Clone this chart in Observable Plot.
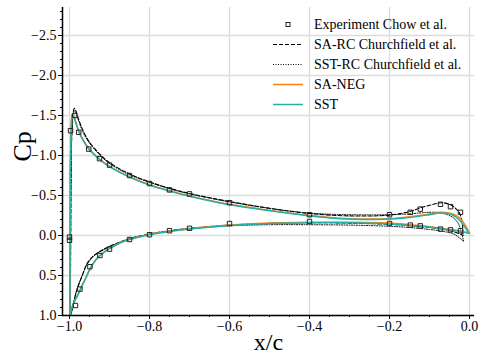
<!DOCTYPE html>
<html>
<head>
<meta charset="utf-8">
<script src="https://cdn.jsdelivr.net/npm/d3@7"></script>
<script src="https://cdn.jsdelivr.net/npm/@observablehq/plot@0.6"></script>
<style>
  html, body { margin: 0; padding: 0; background: white; }
  #wrap { position: relative; width: 479px; height: 358px; font-family: "Liberation Serif", "Times New Roman", "DejaVu Serif", serif; }
  #wrap svg, #wrap text { font-family: "Liberation Serif", "Times New Roman", "DejaVu Serif", serif !important; }
  #legend { position: absolute; left: 0; top: 0; pointer-events: none; }
</style>
</head>
<body>
<div id="wrap"></div>
<script>
// ---- Data (x/c, Cp) ----
const expUpper = [[-1.0,0.02],[-0.9975,-1.31],[-0.987,-1.50],[-0.977,-1.29],[-0.952,-1.08],[-0.925,-0.96],[-0.90,-0.88],[-0.85,-0.75],[-0.80,-0.65],[-0.75,-0.57],[-0.70,-0.52],[-0.60,-0.41],[-0.40,-0.26],[-0.20,-0.26],[-0.148,-0.29],[-0.123,-0.33],[-0.0725,-0.39],[-0.0475,-0.36],[-0.0225,-0.29]];
const expLower = [[-1.0,0.06],[-0.985,0.875],[-0.974,0.67],[-0.949,0.39],[-0.924,0.25],[-0.90,0.17],[-0.85,0.05],[-0.80,-0.01],[-0.75,-0.06],[-0.70,-0.09],[-0.60,-0.15],[-0.40,-0.175],[-0.20,-0.15],[-0.148,-0.13],[-0.123,-0.12],[-0.0725,-0.08],[-0.0475,-0.07],[-0.0225,-0.06]];

const saRcUpper = [[-0.998,1.0],[-0.997,0.0],[-0.996,-0.8],[-0.994,-1.3],[-0.991,-1.52],[-0.988,-1.59],[-0.984,-1.56],[-0.977,-1.45],[-0.965,-1.30],[-0.952,-1.18],[-0.925,-1.02],[-0.90,-0.91],[-0.85,-0.77],[-0.80,-0.67],[-0.75,-0.59],[-0.70,-0.525],[-0.60,-0.425],[-0.50,-0.34],[-0.40,-0.275],[-0.30,-0.245],[-0.20,-0.255],[-0.15,-0.30],[-0.12,-0.35],[-0.09,-0.39],[-0.07,-0.41],[-0.05,-0.39],[-0.035,-0.34],[-0.025,-0.28],[-0.018,-0.15],[-0.016,0.0]];
const saRcLower = [[-0.998,1.0],[-0.993,0.93],[-0.991,0.875],[-0.981,0.67],[-0.968,0.5],[-0.956,0.35],[-0.939,0.25],[-0.914,0.17],[-0.873,0.08],[-0.85,0.04],[-0.80,-0.02],[-0.75,-0.06],[-0.70,-0.09],[-0.60,-0.13],[-0.50,-0.15],[-0.40,-0.16],[-0.30,-0.155],[-0.20,-0.14],[-0.15,-0.125],[-0.10,-0.10],[-0.07,-0.08],[-0.04,-0.05],[-0.016,0.0]];

const sstRcUpper = [[-0.998,1.0],[-0.997,0.0],[-0.996,-0.8],[-0.994,-1.3],[-0.991,-1.5],[-0.988,-1.56],[-0.984,-1.53],[-0.977,-1.43],[-0.965,-1.28],[-0.952,-1.17],[-0.925,-1.01],[-0.90,-0.90],[-0.85,-0.76],[-0.80,-0.665],[-0.75,-0.585],[-0.70,-0.52],[-0.60,-0.42],[-0.50,-0.34],[-0.40,-0.28],[-0.30,-0.26],[-0.20,-0.26],[-0.15,-0.27],[-0.10,-0.29],[-0.075,-0.285],[-0.055,-0.26],[-0.04,-0.22],[-0.028,-0.15],[-0.02,-0.04],[-0.015,0.07]];
const sstRcLower = [[-0.998,1.0],[-0.992,0.9],[-0.983,0.7],[-0.97,0.52],[-0.957,0.37],[-0.94,0.26],[-0.915,0.18],[-0.873,0.085],[-0.85,0.045],[-0.80,-0.015],[-0.75,-0.055],[-0.70,-0.085],[-0.60,-0.12],[-0.50,-0.135],[-0.40,-0.135],[-0.30,-0.13],[-0.20,-0.115],[-0.15,-0.10],[-0.10,-0.075],[-0.07,-0.055],[-0.04,-0.02],[-0.025,0.03],[-0.015,0.07]];

const saNegUpper = [[-0.999,1.0],[-0.9985,0.0],[-0.998,-0.8],[-0.9965,-1.2],[-0.995,-1.43],[-0.993,-1.52],[-0.990,-1.51],[-0.985,-1.43],[-0.977,-1.31],[-0.965,-1.19],[-0.952,-1.09],[-0.925,-0.955],[-0.90,-0.865],[-0.85,-0.735],[-0.80,-0.635],[-0.75,-0.56],[-0.70,-0.495],[-0.60,-0.39],[-0.50,-0.315],[-0.40,-0.25],[-0.30,-0.21],[-0.25,-0.205],[-0.20,-0.21],[-0.15,-0.235],[-0.10,-0.27],[-0.075,-0.29],[-0.055,-0.285],[-0.04,-0.265],[-0.025,-0.22],[-0.012,-0.14],[0.0,-0.03]];
const saNegLower = [[-0.999,1.0],[-0.995,0.92],[-0.99,0.85],[-0.983,0.78],[-0.977,0.72],[-0.968,0.62],[-0.96,0.54],[-0.949,0.42],[-0.935,0.31],[-0.924,0.25],[-0.90,0.165],[-0.873,0.09],[-0.85,0.05],[-0.80,-0.015],[-0.75,-0.055],[-0.70,-0.085],[-0.60,-0.13],[-0.50,-0.155],[-0.40,-0.165],[-0.30,-0.165],[-0.20,-0.155],[-0.15,-0.135],[-0.10,-0.11],[-0.05,-0.075],[-0.02,-0.05],[0.0,-0.03]];

const sstUpper = [[-0.999,1.0],[-0.9985,0.0],[-0.998,-0.8],[-0.9965,-1.2],[-0.995,-1.42],[-0.993,-1.51],[-0.990,-1.50],[-0.985,-1.42],[-0.977,-1.30],[-0.965,-1.18],[-0.952,-1.08],[-0.925,-0.95],[-0.90,-0.86],[-0.85,-0.73],[-0.80,-0.63],[-0.75,-0.555],[-0.70,-0.49],[-0.60,-0.385],[-0.50,-0.31],[-0.40,-0.245],[-0.30,-0.205],[-0.25,-0.20],[-0.20,-0.205],[-0.15,-0.225],[-0.10,-0.26],[-0.075,-0.28],[-0.055,-0.275],[-0.04,-0.25],[-0.025,-0.19],[-0.012,-0.11],[-0.002,-0.03]];
const sstLower = [[-0.999,1.0],[-0.995,0.92],[-0.99,0.85],[-0.983,0.78],[-0.977,0.72],[-0.968,0.62],[-0.96,0.54],[-0.949,0.42],[-0.935,0.31],[-0.924,0.25],[-0.90,0.165],[-0.873,0.09],[-0.85,0.05],[-0.80,-0.01],[-0.75,-0.05],[-0.70,-0.08],[-0.60,-0.125],[-0.50,-0.15],[-0.40,-0.16],[-0.30,-0.16],[-0.20,-0.145],[-0.15,-0.125],[-0.10,-0.105],[-0.07,-0.085],[-0.04,-0.065],[-0.02,-0.05],[-0.002,-0.03]];

const legendLabels = ["Experiment Chow et al.", "SA-RC Churchfield et al.", "SST-RC Churchfield et al.", "SA-NEG", "SST"];
const xTicks = [-1.0, -0.8, -0.6, -0.4, -0.2, 0.0];
const yTicks = [-2.5, -2.0, -1.5, -1.0, -0.5, 0.0, 0.5, 1.0];
const xMinor = d3.range(-1.0, 0.0001, 0.05).map(v => +v.toFixed(3));
const yMinor = d3.range(-2.8, 1.0001, 0.1).map(v => +v.toFixed(2));
const xDomain = [-1.0175, 0.0125];
const yDomain = [1.0, -2.85];

const serif = '"Liberation Serif", "Times New Roman", "DejaVu Serif", serif';
const teal = "#20b2aa", orange = "#ff7f0e";
const fmt = d3.format(".1f");
const X = d => d[0], Y = d => d[1];
const line = (data, o) => Plot.line(data, {x: X, y: Y, curve: "catmull-rom", clip: true, ...o});

const chart = Plot.plot({
  width: 479, height: 358,
  marginLeft: 62, marginRight: 5, marginTop: 7, marginBottom: 43,
  x: {domain: xDomain},
  y: {domain: yDomain},
  style: {fontFamily: serif, fontSize: "14px", background: "white", color: "black"},
  marks: [
    Plot.gridX({ticks: xTicks, stroke: "#dcdcdc", strokeOpacity: 1, strokeWidth: 1.3}),
    Plot.gridY({ticks: yTicks, stroke: "#dcdcdc", strokeOpacity: 1, strokeWidth: 1.3}),
    line(saRcUpper, {stroke: "black", strokeWidth: 1.1, strokeDasharray: "4,2"}),
    line(saRcLower, {stroke: "black", strokeWidth: 1.1, strokeDasharray: "4,2"}),
    line(sstRcUpper, {stroke: "black", strokeWidth: 1, strokeDasharray: "1,1.5"}),
    line(sstRcLower, {stroke: "black", strokeWidth: 1, strokeDasharray: "1,1.5"}),
    line(saNegUpper, {stroke: orange, strokeWidth: 1.5}),
    line(saNegLower, {stroke: orange, strokeWidth: 1.5}),
    line(sstUpper, {stroke: teal, strokeWidth: 1.5}),
    line(sstLower, {stroke: teal, strokeWidth: 1.5}),
    Plot.dot(expUpper.concat(expLower), {x: X, y: Y, symbol: "square", r: 2.5, stroke: "#222", strokeWidth: 1, fill: "none"}),
    Plot.ruleX([xDomain[0]], {stroke: "black", strokeWidth: 1.5}),
    Plot.ruleY([yDomain[0]], {stroke: "black", strokeWidth: 1.5}),
    Plot.axisX({ticks: xMinor, tickSize: 2, tickFormat: null, text: null, label: null}),
    Plot.axisY({ticks: yMinor, tickSize: 2, tickFormat: null, text: null, label: null}),
    Plot.axisX({ticks: xTicks, tickSize: 4, tickPadding: 2, tickFormat: fmt, label: null, fontSize: 14, fontFamily: serif}),
    Plot.axisY({ticks: yTicks, tickSize: 4, tickPadding: 2, tickFormat: fmt, label: null, fontSize: 14, fontFamily: serif}),
    Plot.text(["x/c"], {frameAnchor: "bottom", dy: 27, fontSize: 24, lineAnchor: "middle", fontFamily: serif}),
    Plot.text(["Cp"], {frameAnchor: "left", dx: -40, rotate: -90, fontSize: 26, lineAnchor: "middle", fontFamily: serif})
  ]
});
document.getElementById("wrap").appendChild(chart);

// Legend overlay
const lg = d3.select("#wrap").append("svg").attr("id", "legend").attr("width", 479).attr("height", 358)
  .attr("font-family", serif).attr("font-size", 14);
const styles = [
  {type: "square"},
  {stroke: "black", dash: "4,2", w: 1.1},
  {stroke: "black", dash: "1,1.5", w: 1},
  {stroke: orange, dash: null, w: 1.5},
  {stroke: teal, dash: null, w: 1.5}
];
legendLabels.forEach((lab, i) => {
  const y = 24.5 + 20 * i;
  const s = styles[i];
  if (s.type === "square") {
    lg.append("rect").attr("x", 286).attr("y", y - 2).attr("width", 4).attr("height", 4)
      .attr("fill", "none").attr("stroke", "#222").attr("stroke-width", 1);
  } else {
    lg.append("line").attr("x1", 273).attr("x2", 303).attr("y1", y).attr("y2", y)
      .attr("stroke", s.stroke).attr("stroke-width", s.w).attr("stroke-dasharray", s.dash);
  }
  lg.append("text").attr("x", 314).attr("y", y).attr("dy", "0.35em").text(lab);
});
</script>
</body>
</html>
